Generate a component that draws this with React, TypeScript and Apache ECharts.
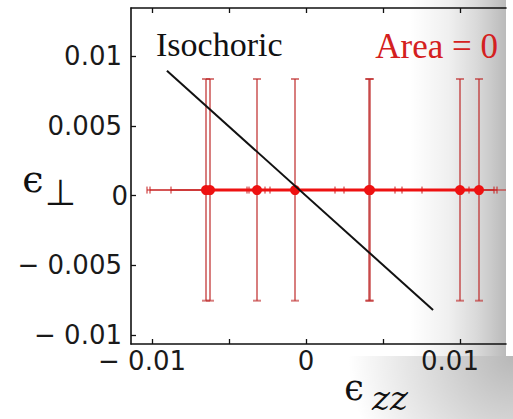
import React, { useEffect, useRef } from "react";
import * as echarts from "echarts";

// ---- data ----
const xTickValues = [-0.01, -0.005, 0, 0.005, 0.01];
const xLabelValues = [-0.01, 0, 0.01];
const yTickValues = [-0.01, -0.005, 0, 0.005, 0.01];

const pointX = [-0.006494, -0.006234, -0.003182, -0.000714, 0.004091, 0.004156, 0.01, 0.011234];
const pointY = [0.00039, 0.00039, 0.00039, 0.00039, 0.00039, 0.00039, 0.00039, 0.00039];
const xErrLow = [-0.010325, -0.01013, -0.008766, -0.003831, -0.003701, 0.001883, 0.007532, 0.010584];
const xErrHigh = [-0.002662, -0.002338, 0.002468, 0.006234, 0.012208, 0.005779, 0.012403, 0.01455];
const yErrLow = [-0.00754, -0.00754, -0.00754, -0.00754, -0.00754, -0.00754, -0.00754, -0.00754];
const yErrHigh = [0.00835, 0.00835, 0.00835, 0.00835, 0.00835, 0.00835, 0.00835, 0.00835];

const isoX = [-0.00903, 0.00825];
const isoY = [0.008946, -0.00821];

const X_MIN = -0.011364;
const X_MAX = 0.012987;
const Y_MIN = -0.010645;
const Y_MAX = 0.013441;

const fmt = (v: number) => (v === 0 ? "0" : v < 0 ? "\u2212 " + String(Math.abs(v)) : String(v));

const AXIS_FONT = "DejaVu Sans";

export default function App() {
  const ref = useRef<HTMLDivElement>(null);
  useEffect(() => {
    if (!ref.current) return;
    const chart = echarts.init(ref.current, undefined, { renderer: "svg" });

    const vErrData = pointX.map((x, i) => [x, yErrLow[i], yErrHigh[i]]);
    const hErrData = pointX.map((x, i) => [x, xErrLow[i], xErrHigh[i], pointY[i]]);
    const ptsData = pointX.map((x, i) => [x, pointY[i]]);
    const isoData = isoX.map((x, i) => [x, isoY[i]]);

    const axisLineStyle = { color: "#111", width: 1.6 };

    const option: any = {
      animation: false,
      grid: { left: 131, top: 8, right: 7, bottom: 75, containLabel: false },
      xAxis: [
        {
          type: "value",
          position: "bottom",
          min: X_MIN,
          max: X_MAX,
          splitLine: { show: false },
          axisLine: { show: true, onZero: false, lineStyle: axisLineStyle },
          axisTick: { show: true, inside: true, length: 5, customValues: xTickValues, lineStyle: { color: "#111", width: 1.3 } },
          axisLabel: {
            customValues: xLabelValues,
            margin: 4,
            formatter: (v: number) => (v === 0 ? "{z|0}" : "{n|" + fmt(v) + "}"),
            rich: {
              z: { fontFamily: AXIS_FONT, fontSize: 26, color: "#1a1a1a" },
              n: { fontFamily: AXIS_FONT, fontSize: 26, color: "#1a1a1a", padding: [0, 20, 0, 0] },
            },
          },
        },
        {
          type: "value",
          position: "top",
          min: X_MIN,
          max: X_MAX,
          splitLine: { show: false },
          axisLine: { show: true, onZero: false, lineStyle: axisLineStyle },
          axisTick: { show: true, inside: true, length: 5, customValues: xTickValues, lineStyle: { color: "#111", width: 1.3 } },
          axisLabel: { show: false },
        },
      ],
      yAxis: [
        {
          type: "value",
          position: "left",
          min: Y_MIN,
          max: Y_MAX,
          splitLine: { show: false },
          axisLine: { show: true, onZero: false, lineStyle: axisLineStyle },
          axisTick: { show: true, inside: true, length: 5, customValues: yTickValues, lineStyle: { color: "#111", width: 1.3 } },
          axisLabel: {
            customValues: yTickValues,
            margin: 3,
            formatter: (v: number) => (v === 0 ? "{z|0}" : "{n|" + fmt(v) + "}"),
            rich: {
              z: { fontFamily: AXIS_FONT, fontSize: 26, color: "#1a1a1a" },
              n: { fontFamily: AXIS_FONT, fontSize: 26, color: "#1a1a1a", padding: [0, 6, 0, 0] },
            },
          },
        },
      ],
      graphic: [
        {
          type: "rect",
          silent: true,
          z: -10,
          shape: { x: 410, y: 0, width: 96, height: 356 },
          style: {
            fill: new echarts.graphic.LinearGradient(0, 0, 1, 0, [
              { offset: 0, color: "rgba(0,0,0,0)" },
              { offset: 0.4, color: "rgba(0,0,0,0.06)" },
              { offset: 0.7, color: "rgba(0,0,0,0.15)" },
              { offset: 1, color: "rgba(0,0,0,0.27)" },
            ]),
          },
        },
        {
          type: "rect",
          silent: true,
          z: -10,
          shape: { x: 300, y: 356, width: 213, height: 63 },
          style: {
            fill: new echarts.graphic.RadialGradient(513, 356, 165, [
              { offset: 0, color: "rgba(0,0,0,0.28)" },
              { offset: 1, color: "rgba(0,0,0,0)" },
            ], true),
          },
        },
        {
          type: "text",
          silent: true,
          style: {
            text: "Isochoric",
            x: 156,
            y: 44,
            align: "left",
            verticalAlign: "middle",
            fontFamily: "Liberation Serif",
            fontSize: 34,
            fill: "#111",
          },
        },
        {
          type: "text",
          silent: true,
          style: {
            text: "Area = 0",
            x: 498,
            y: 46,
            align: "right",
            verticalAlign: "middle",
            fontFamily: "Liberation Serif",
            fontSize: 35,
            fill: "#d42020",
          },
        },
        {
          type: "text",
          silent: true,
          style: {
            text: "\u03F5",
            x: 33,
            y: 179,
            align: "center",
            verticalAlign: "middle",
            fontFamily: "DejaVu Serif",
            fontSize: 38,
            fill: "#111",
          },
        },
        {
          type: "text",
          silent: true,
          style: {
            text: "\u22A5",
            x: 60.5,
            y: 192,
            align: "center",
            verticalAlign: "middle",
            fontFamily: "DejaVu Sans",
            fontSize: 36,
            fill: "#111",
          },
        },
        {
          type: "text",
          silent: true,
          style: {
            text: "\u03F5",
            x: 354,
            y: 388,
            align: "center",
            verticalAlign: "middle",
            fontFamily: "DejaVu Serif",
            fontSize: 35,
            fill: "#111",
          },
        },
        {
          type: "text",
          silent: true,
          style: {
            text: "zz",
            x: 390,
            y: 398,
            align: "center",
            verticalAlign: "middle",
            fontFamily: "DejaVu Serif",
            fontStyle: "italic",
            fontSize: 34,
            fill: "#111",
          },
        },
      ],
      series: [
        {
          type: "custom",
          name: "yerr",
          clip: true,
          z: 2,
          data: vErrData,
          encode: { x: 0, y: [1, 2] },
          renderItem: (params: any, api: any) => {
            const lo = api.coord([api.value(0), api.value(1)]);
            const hi = api.coord([api.value(0), api.value(2)]);
            const st = { stroke: "rgba(190,40,40,0.6)", lineWidth: 2 };
            const cw = 4;
            return {
              type: "group",
              children: [
                { type: "line", shape: { x1: lo[0], y1: lo[1], x2: hi[0], y2: hi[1] }, style: st },
                { type: "line", shape: { x1: lo[0] - cw, y1: lo[1], x2: lo[0] + cw, y2: lo[1] }, style: st },
                { type: "line", shape: { x1: hi[0] - cw, y1: hi[1], x2: hi[0] + cw, y2: hi[1] }, style: st },
              ],
            };
          },
        },
        {
          type: "custom",
          name: "xerr",
          clip: true,
          z: 3,
          data: hErrData,
          encode: { x: [1, 2], y: 3 },
          renderItem: (params: any, api: any) => {
            const lo = api.coord([api.value(1), api.value(3)]);
            const hi = api.coord([api.value(2), api.value(3)]);
            const st = { stroke: "rgba(200,30,30,0.5)", lineWidth: 2 };
            const ch = 3.5;
            return {
              type: "group",
              children: [
                { type: "line", shape: { x1: lo[0], y1: lo[1], x2: hi[0], y2: hi[1] }, style: st },
                { type: "line", shape: { x1: lo[0], y1: lo[1] - ch, x2: lo[0], y2: lo[1] + ch }, style: st },
                { type: "line", shape: { x1: hi[0], y1: hi[1] - ch, x2: hi[0], y2: hi[1] + ch }, style: st },
              ],
            };
          },
        },
        {
          type: "line",
          name: "Area = 0",
          z: 4,
          data: ptsData,
          symbol: "circle",
          symbolSize: 10,
          itemStyle: { color: "#ee1111" },
          lineStyle: { color: "#ee1111", width: 3 },
        },
        {
          type: "line",
          name: "Isochoric",
          z: 5,
          data: isoData,
          symbol: "none",
          lineStyle: { color: "#111", width: 2 },
        },
      ],
    };

    chart.setOption(option);
    return () => chart.dispose();
  }, []);

  return (
    <div
      ref={ref}
      style={{ position: "fixed", left: 0, top: 0, width: 513, height: 419, background: "#fff" }}
    />
  );
}
